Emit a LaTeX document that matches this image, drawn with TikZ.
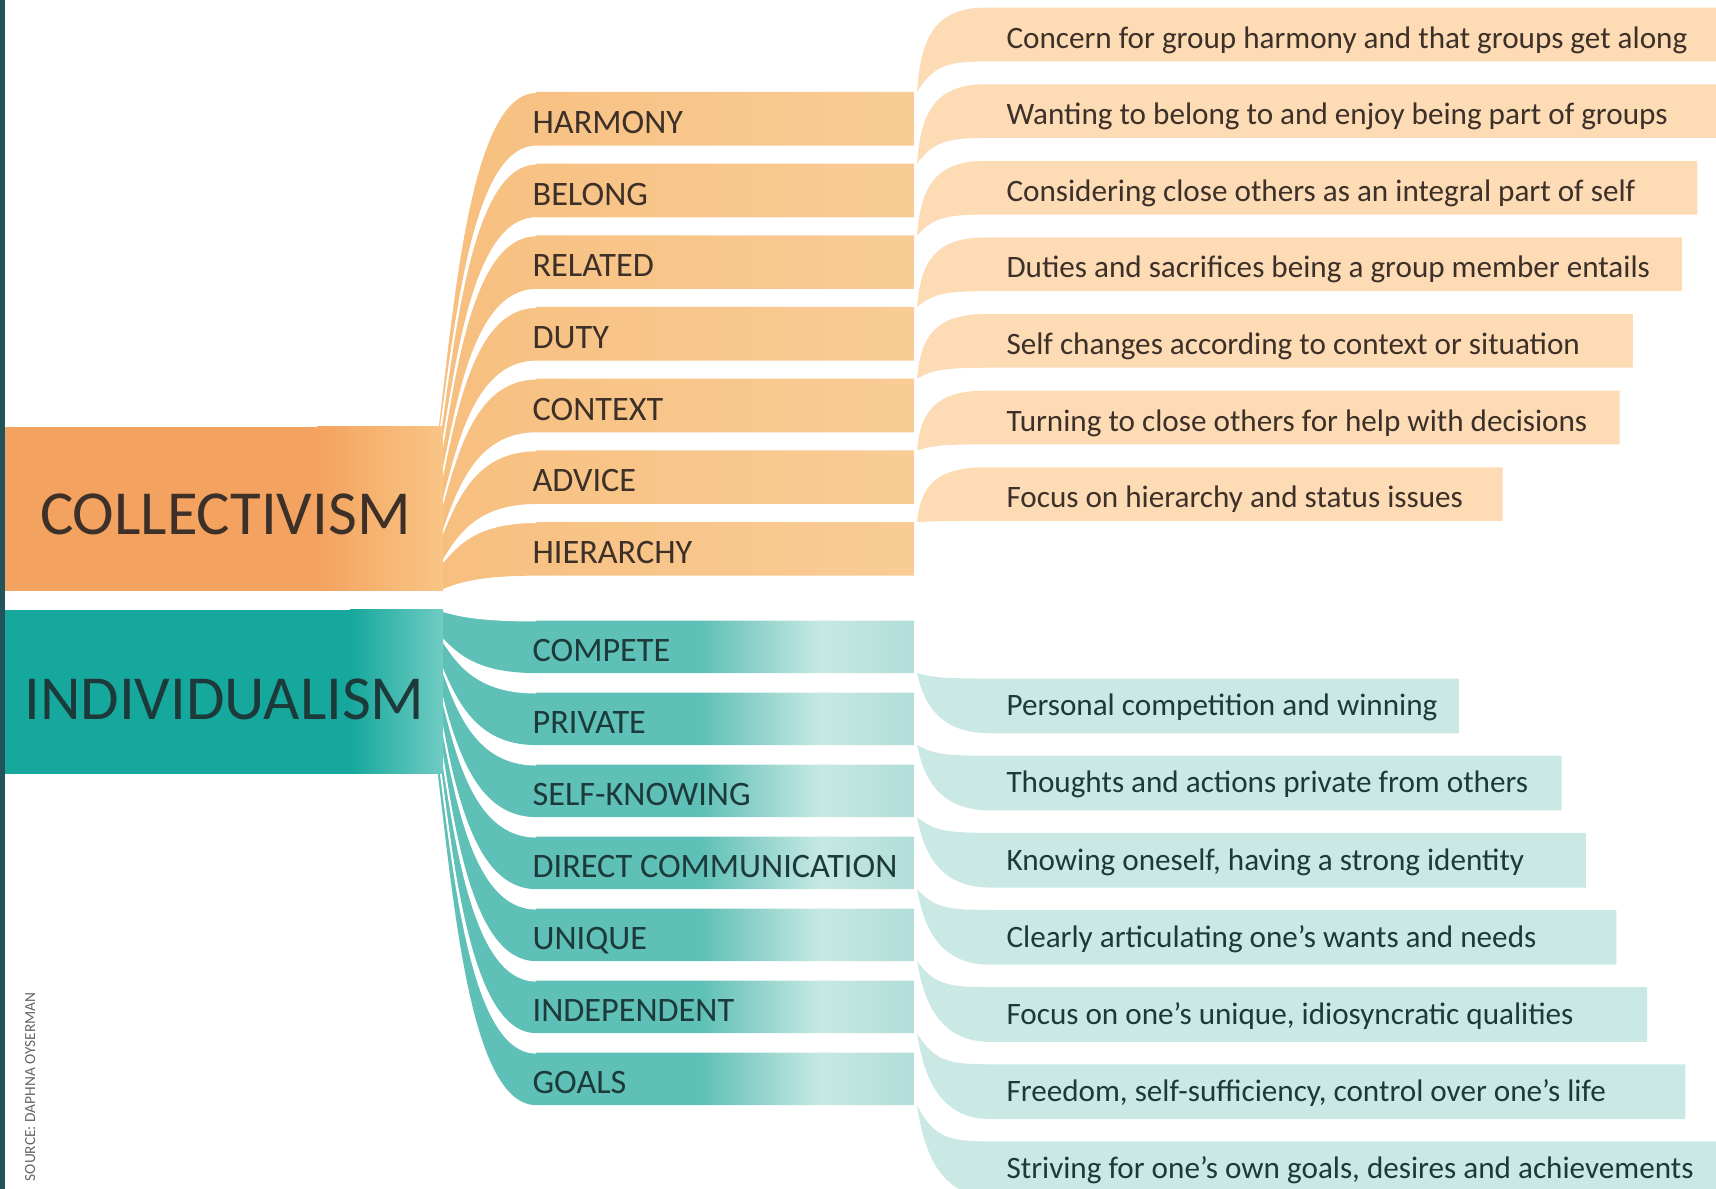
\documentclass[tikz,border=0pt]{standalone}
\usepackage{fontspec}
\setmainfont{Carlito}

\definecolor{edge}{HTML}{21535A}
\definecolor{collA}{HTML}{F3A35F}
\definecolor{collB}{HTML}{F9C585}
\definecolor{orA}{HTML}{F7BF7F}
\definecolor{orB}{HTML}{F9CC96}
\definecolor{ordesc}{HTML}{FCDBB5}
\definecolor{indA}{HTML}{16A89C}
\definecolor{indB}{HTML}{70CCC4}
\definecolor{tlA}{HTML}{5EC0B6}
\definecolor{tlB}{HTML}{C7E8E4}
\definecolor{tlC}{HTML}{B2DDD8}
\definecolor{tldesc}{HTML}{CAE9E5}
\definecolor{ortext}{HTML}{3C3029}
\definecolor{tltext}{HTML}{1D3A3B}

\tikzset{
  title/.style={anchor=base, inner sep=0pt, font=\fontsize{16.3}{18}\selectfont},
  lab/.style={anchor=base west, inner sep=0pt, font=\fontsize{8.9}{10}\selectfont},
  desc/.style={anchor=base west, inner sep=0pt, font=\fontsize{8.1}{10}\selectfont},
  gap/.style={white, line width=0.5pt},
}

\begin{document}
\begin{tikzpicture}[x=0.1mm, y=-0.1mm]
  \clip (0,0) rectangle (1568,1086);
  \fill[white] (0,0) rectangle (1568,1086);

  % collectivism: fan from the box up to the seven bands
  \foreach \i [evaluate=\i as \st using 390+150/7*(\i-1),
               evaluate=\i as \sb using 390+150/7*\i,
               evaluate=\i as \mt using 84+65.5*(\i-1),
               evaluate=\i as \mb using 133+65.5*(\i-1)] in {1,...,7} {
    \begin{scope}
      \clip (400,\st) .. controls (415,{\st-0.4*(\st-\mt)}) and (430,\mt) .. (490,\mt)
        -- (835,\mt) -- (835,\mb) -- (490,\mb)
        .. controls (430,\mb) and (415,{\sb-0.4*(\sb-\mb)}) .. (400,\sb) -- cycle;
      \shade[left color=orA, right color=orB] (400,0) rectangle (835,560);
    \end{scope}
    \draw[gap] (400,\st) .. controls (415,{\st-0.4*(\st-\mt)}) and (430,\mt) .. (490,\mt);
  }

  % individualism: fan from the box down to the seven bands
  \foreach \i [evaluate=\i as \st using 557+150/7*(\i-1),
               evaluate=\i as \sb using 557+150/7*\i,
               evaluate=\i as \mt using 567+65.8*(\i-1),
               evaluate=\i as \mb using 615+65.8*(\i-1)] in {1,...,7} {
    \begin{scope}
      \clip (400,\st) .. controls (415,{\st+0.4*(\mt-\st)}) and (430,\mt) .. (490,\mt)
        -- (835,\mt) -- (835,\mb) -- (490,\mb)
        .. controls (430,\mb) and (415,{\sb+0.4*(\mb-\sb)}) .. (400,\sb) -- cycle;
      \fill[tlA] (400,550) rectangle (640,1020);
      \shade[left color=tlA, right color=tlB] (640,550) rectangle (750,1020);
      \shade[left color=tlB, right color=tlC] (750,550) rectangle (835,1020);
    \end{scope}
    \draw[gap] (400,\st) .. controls (415,{\st+0.4*(\mt-\st)}) and (430,\mt) .. (490,\mt);
  }

  % description ribbons, rising from the top corner of each band
  \foreach \i/\xr [evaluate=\i as \mt using 84+65.5*(\i-1),
                   evaluate=\i as \dt using 7+70*(\i-1),
                   evaluate=\i as \db using 56+70*(\i-1)]
      in {1/1580,2/1580,3/1551,4/1537,5/1492,6/1480,7/1373} {
    \fill[ordesc] (838,\mt) .. controls (841,{\mt-0.65*(\mt-\dt)}) and (855,\dt) .. (900,\dt)
      -- (\xr,\dt) -- (\xr,\db) -- (915,\db) .. controls (870,\db) and (855,\db) .. (838,\mt) -- cycle;
  }

  % and falling from the bottom corner of each band
  \foreach \i/\xr [evaluate=\i as \mb using 615+65.8*(\i-1),
                   evaluate=\i as \dt using 620+70.5*(\i-1),
                   evaluate=\i as \db using 670+70.5*(\i-1)]
      in {1/1333,2/1427,3/1449,4/1477,5/1505,6/1540,7/1580} {
    \fill[tldesc] (838,\mb) .. controls (855,\dt) and (870,\dt) .. (915,\dt)
      -- (\xr,\dt) -- (\xr,\db) -- (905,\db)
      .. controls (858,\db) and (844,{\mb+0.5*(\db-\mb)}) .. (838,\mb) -- cycle;
  }

  % the two main boxes
  \fill[collA] (5,390) rectangle (290,540);
  \shade[left color=collA, right color=collB] (290,390) rectangle (405,540);
  \fill[indA] (5,557) rectangle (320,707);
  \shade[left color=indA, right color=indB] (320,557) rectangle (405,707);
  \fill[edge] (0,0) rectangle (5,1086);

  \node[title, text=ortext] (coll) at (206,488) {COLLECTIVISM};
  \node[title, text=tltext] (indiv) at (205,657) {INDIVIDUALISM};

  \foreach \lab [count=\i, evaluate=\i as \mt using 84+65.5*(\i-1)]
      in {HARMONY, BELONG, RELATED, DUTY, CONTEXT, ADVICE, HIERARCHY}
    \node[lab, text=ortext] (collab\i) at (486,{\mt+38}) {\lab};

  \foreach \lab [count=\i, evaluate=\i as \mt using 567+65.8*(\i-1)]
      in {COMPETE, PRIVATE, SELF-KNOWING, DIRECT COMMUNICATION, UNIQUE, INDEPENDENT, GOALS}
    \node[lab, text=tltext] (indlab\i) at (486,{\mt+37}) {\lab};

  \foreach \txt [count=\i, evaluate=\i as \dc using 35+70*(\i-1)] in {
      {Concern for group harmony and that groups get along},
      {Wanting to belong to and enjoy being part of groups},
      {Considering close others as an integral part of self},
      {Duties and sacrifices being a group member entails},
      {Self changes according to context or situation},
      {Turning to close others for help with decisions},
      {Focus on hierarchy and status issues}}
    \node[desc, text=ortext] (coldesc\i) at (919,{\dc+9}) {\txt};

  \foreach \txt [count=\i, evaluate=\i as \dc using 645+70.5*(\i-1)] in {
      {Personal competition and winning},
      {Thoughts and actions private from others},
      {Knowing oneself, having a strong identity},
      {Clearly articulating one’s wants and needs},
      {Focus on one’s unique, idiosyncratic qualities},
      {Freedom, self-sufficiency, control over one’s life},
      {Striving for one’s own goals, desires and achievements}}
    \node[desc, text=tltext] (inddesc\i) at (919,{\dc+9}) {\txt};

  \node[rotate=90, anchor=base west, inner sep=0pt, text=gray!80!black,
        font=\fontsize{4}{5}\selectfont] (src) at (32,1080) {SOURCE: DAPHNA OYSERMAN};
\end{tikzpicture}
\end{document}
